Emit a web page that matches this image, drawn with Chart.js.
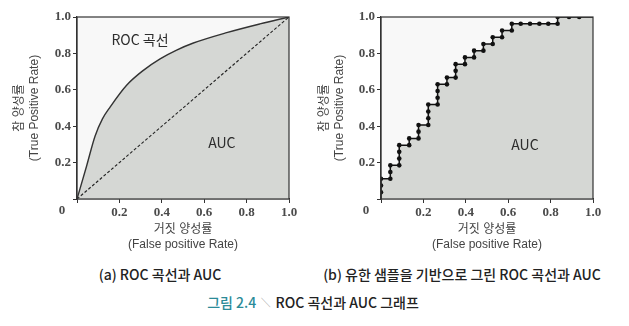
<!DOCTYPE html>
<html>
<head>
<meta charset="utf-8">
<script src="https://cdn.jsdelivr.net/npm/chart.js@4/dist/chart.umd.min.js"></script>
<style>
  body { margin: 0; background: #fff; width: 629px; height: 326px; position: relative; overflow: hidden;
         font-family: "Noto Sans CJK KR", "Liberation Sans", sans-serif; }
  #wrapA { position: absolute; left: 0; top: 0; width: 310px; height: 260px; }
  #wrapB { position: absolute; left: 310px; top: 0; width: 319px; height: 260px; }
  .cap { position: absolute; font-size: 14px; font-weight: 500; color: #222; white-space: nowrap;
         transform: translateX(-50%); line-height: 20px; }
  .fig { color: #2b8b98; }
  .sep { color: #888; font-size: 9px; font-weight: 400; vertical-align: 2px; padding: 0 2px; }
</style>
</head>
<body>
<div id="wrapA"><canvas id="rocA" width="310" height="260"></canvas></div>
<div id="wrapB"><canvas id="rocB" width="319" height="260"></canvas></div>
<div class="cap" style="left:160px;top:264px;">(a) ROC 곡선과 AUC</div>
<div class="cap" style="left:462px;top:264px;">(b) 유한 샘플을 기반으로 그린 ROC 곡선과 AUC</div>
<div class="cap" style="left:313px;top:292px;"><span class="fig">그림 2.4</span> <span class="sep">╲</span> ROC 곡선과 AUC 그래프</div>

<script>
'use strict';

// (a) smooth ROC curve
var rocFpr = [0, 0.045, 0.085, 0.12, 0.156, 0.234, 0.313, 0.392, 0.47, 0.549, 0.706, 0.863, 1];
var rocTpr = [0, 0.18, 0.345, 0.44, 0.505, 0.625, 0.707, 0.77, 0.818, 0.857, 0.914, 0.962, 1];

// (a) random classifier diagonal
var chanceFpr = [0, 1];
var chanceTpr = [0, 1];

// (b) step ROC curve from a finite sample
var stepFpr = [0, 0, 0, 0,
  0.044, 0.044, 0.044,
  0.086, 0.086, 0.086, 0.086,
  0.133, 0.133,
  0.177, 0.177, 0.177,
  0.223, 0.223, 0.223, 0.223,
  0.267, 0.267, 0.267, 0.267,
  0.311, 0.311,
  0.352, 0.352, 0.352,
  0.396, 0.396,
  0.439, 0.439,
  0.483, 0.483,
  0.527, 0.527,
  0.571, 0.571,
  0.617, 0.617,
  0.659, 0.703, 0.747, 0.789, 0.833, 0.833,
  0.887, 0.935, 1];
var stepTpr = [0, 0.037, 0.074, 0.111,
  0.111, 0.148, 0.185,
  0.185, 0.222, 0.259, 0.296,
  0.296, 0.333,
  0.333, 0.37, 0.407,
  0.407, 0.444, 0.481, 0.519,
  0.519, 0.556, 0.593, 0.63,
  0.63, 0.667,
  0.667, 0.704, 0.741,
  0.741, 0.778,
  0.778, 0.815,
  0.815, 0.852,
  0.852, 0.889,
  0.889, 0.926,
  0.926, 0.963,
  0.963, 0.963, 0.963, 0.963, 0.963, 1,
  1, 1, 1];

// shared axis ticks and titles
var tickValues = [0, 0.2, 0.4, 0.6, 0.8, 1.0];
var tickLabels = ['0', '0.2', '0.4', '0.6', '0.8', '1.0'];
var xTitle = ['거짓 양성률', '(False positive Rate)'];
var yTitle = ['참 양성률', '(True Positive Rate)'];

var INK = '#333';
var AREA = '#d5d7d4';
var PLOT_BG = '#f8f8f8';
var TICK_INK = '#4a4a4a';
var SANS = '"Liberation Sans", "Noto Sans CJK KR", sans-serif';
var SERIF = '"Liberation Serif", serif';

function toPoints(xs, ys) {
  return xs.map(function (x, i) { return { x: x, y: ys[i] }; });
}

// frame round the plot, light plot background, corner "0" and text notes
function framePlugin(notes) {
  return {
    id: 'frame',
    beforeDraw: function (chart) {
      var a = chart.chartArea, ctx = chart.ctx;
      ctx.save();
      ctx.fillStyle = PLOT_BG;
      ctx.fillRect(a.left, a.top, a.right - a.left, a.bottom - a.top);
      ctx.restore();
    },
    afterDraw: function (chart) {
      var a = chart.chartArea, ctx = chart.ctx;
      var xs = chart.scales.x, ys = chart.scales.y;
      ctx.save();
      ctx.strokeStyle = INK;
      ctx.lineWidth = 1.2;
      ctx.strokeRect(a.left, a.top, a.right - a.left, a.bottom - a.top);

      ctx.fillStyle = TICK_INK;
      ctx.font = 'bold 13px ' + SERIF;
      ctx.textAlign = 'center';
      ctx.textBaseline = 'middle';
      ctx.fillText(tickLabels[0], a.left - 15, a.bottom + 12);

      ctx.fillStyle = '#2e2e2e';
      ctx.font = '14px "Noto Sans CJK KR", sans-serif';
      notes.forEach(function (n) {
        ctx.fillText(n.text, xs.getPixelForValue(n.x), ys.getPixelForValue(n.y));
      });
      ctx.restore();
    }
  };
}

function unitAxis(axisTitle, isX, boxSize, titlePad) {
  return {
    type: 'linear',
    min: 0,
    max: 1,
    afterBuildTicks: function (scale) {
      scale.ticks = tickValues.map(function (v) { return { value: v }; });
    },
    afterFit: function (scale) {
      if (isX) { scale.height = boxSize; } else { scale.width = boxSize; }
    },
    ticks: {
      autoSkip: false,
      maxRotation: 0,
      padding: 2,
      color: TICK_INK,
      font: { family: SERIF, size: 13, weight: 'bold' },
      callback: function (value, index) {
        return index === 0 ? '' : tickLabels[index];
      }
    },
    grid: {
      drawOnChartArea: false,
      drawTicks: true,
      tickLength: 4,
      tickColor: INK,
      tickWidth: 1
    },
    border: { display: true, color: INK, width: 1.2 },
    title: {
      display: true,
      text: axisTitle,
      color: '#444',
      font: { family: SANS, size: 12, lineHeight: 1.25 },
      padding: isX ? { top: 0, bottom: 7.5 } : { top: titlePad, bottom: 0 }
    }
  };
}

function baseOptions(yBox, rightPad, yTitlePad) {
  return {
    responsive: false,
    animation: false,
    devicePixelRatio: 1,
    layout: { padding: { left: 0, top: 17, right: rightPad, bottom: 0 } },
    plugins: { legend: { display: false }, tooltip: { enabled: false } },
    scales: {
      x: unitAxis(xTitle, true, 61, 0),
      y: unitAxis(yTitle, false, yBox, yTitlePad)
    }
  };
}

// (a) smooth ROC curve with the diagonal on top of the shaded area
var chartA = new Chart(document.getElementById('rocA').getContext('2d'), {
  type: 'scatter',
  data: {
    datasets: [{
      data: toPoints(chanceFpr, chanceTpr),
      showLine: true,
      borderColor: '#222',
      borderWidth: 1.1,
      borderDash: [3, 2],
      pointRadius: 0,
      fill: false
    }, {
      data: toPoints(rocFpr, rocTpr),
      showLine: true,
      borderColor: '#333',
      borderWidth: 1.4,
      cubicInterpolationMode: 'monotone',
      pointRadius: 0,
      fill: 'origin',
      backgroundColor: AREA
    }]
  },
  options: baseOptions(77, 21, 12.5),
  plugins: [framePlugin([
    { text: 'ROC 곡선', x: 0.297, y: 0.874 },
    { text: 'AUC', x: 0.683, y: 0.308 }
  ])]
});

// (b) staircase ROC curve, one dot per sample threshold
var chartB = new Chart(document.getElementById('rocB').getContext('2d'), {
  type: 'scatter',
  data: {
    datasets: [{
      data: toPoints(stepFpr, stepTpr),
      showLine: true,
      borderColor: '#111',
      borderWidth: 1.5,
      pointRadius: function (ctx) {
        var last = stepFpr.length - 1;
        return (ctx.dataIndex === 0 || ctx.dataIndex === last) ? 0 : 2.3;
      },
      pointBackgroundColor: '#111',
      pointBorderWidth: 0,
      fill: 'origin',
      backgroundColor: AREA
    }]
  },
  options: baseOptions(71, 36, 7.5),
  plugins: [framePlugin([
    { text: 'AUC', x: 0.679, y: 0.297 }
  ])]
});
</script>
</body>
</html>
